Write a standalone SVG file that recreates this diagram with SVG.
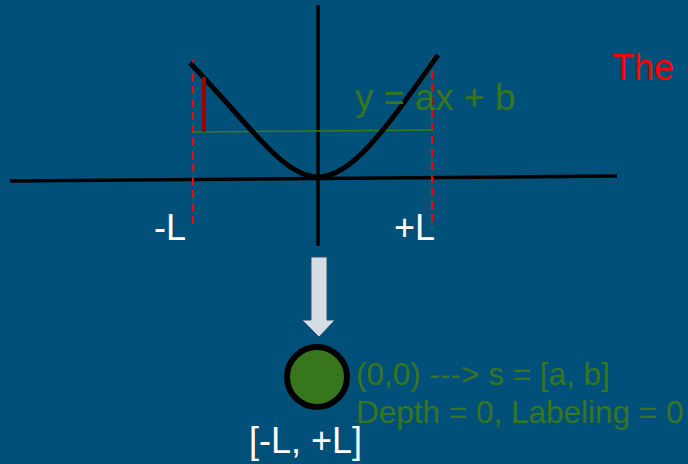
<svg xmlns="http://www.w3.org/2000/svg" width="688" height="464" viewBox="0 0 688 464">
<style>
text{font-family:"Liberation Sans",Arial,sans-serif}
.w{fill:#ffffff;font-size:36px}
.g{fill:#38761d}
.dash{stroke:#ff0000;stroke-width:2;stroke-dasharray:8 5;fill:none}
.ax{stroke:#000;stroke-width:3.5;fill:none}
</style>
<rect width="688" height="464" fill="#00507a"/>
<g id="plot">
<line class="ax" x1="10" y1="181" x2="617" y2="176"/>
<line class="ax" x1="318" y1="5" x2="318" y2="246"/>
<line class="dash" x1="193" y1="60" x2="193" y2="228"/>
<line class="dash" x1="432" y1="58" x2="432" y2="228"/>
<line x1="192" y1="132" x2="433" y2="130" stroke="#3a7a1c" stroke-width="1.5"/>
<path d="M190,63 C250,125 283,177 318,177 C352,177 385,130 438,55" stroke="#000" stroke-width="5" fill="none"/>
<line x1="204" y1="77" x2="204" y2="132" stroke="#a00000" stroke-width="4"/>
<text class="g" x="355" y="110" font-size="36.5">y = ax + b</text>
</g>
<g id="labels">
<text class="w" x="154" y="240">-L</text>
<text class="w" x="394" y="240">+L</text>
<text x="612" y="80" fill="#ff0000" font-size="36">The</text>
</g>
<g id="connectors">
<path d="M311,257 H327 V320 H335 L319,337 L302,320 H311 Z" fill="#d5dde4" stroke="#2a4f6e" stroke-width="1"/>
</g>
<g id="root">
<circle cx="317" cy="377" r="30" fill="#38761d" stroke="#000" stroke-width="6"/>
<text class="g" x="356" y="385" font-size="31.5">(0,0) ---&gt; s = [a, b]</text>
<text class="g" x="356" y="423" font-size="31.5">Depth = 0, Labeling = 0</text>
<text class="w" x="249" y="453">[-L, +L]</text>
</g>
</svg>
